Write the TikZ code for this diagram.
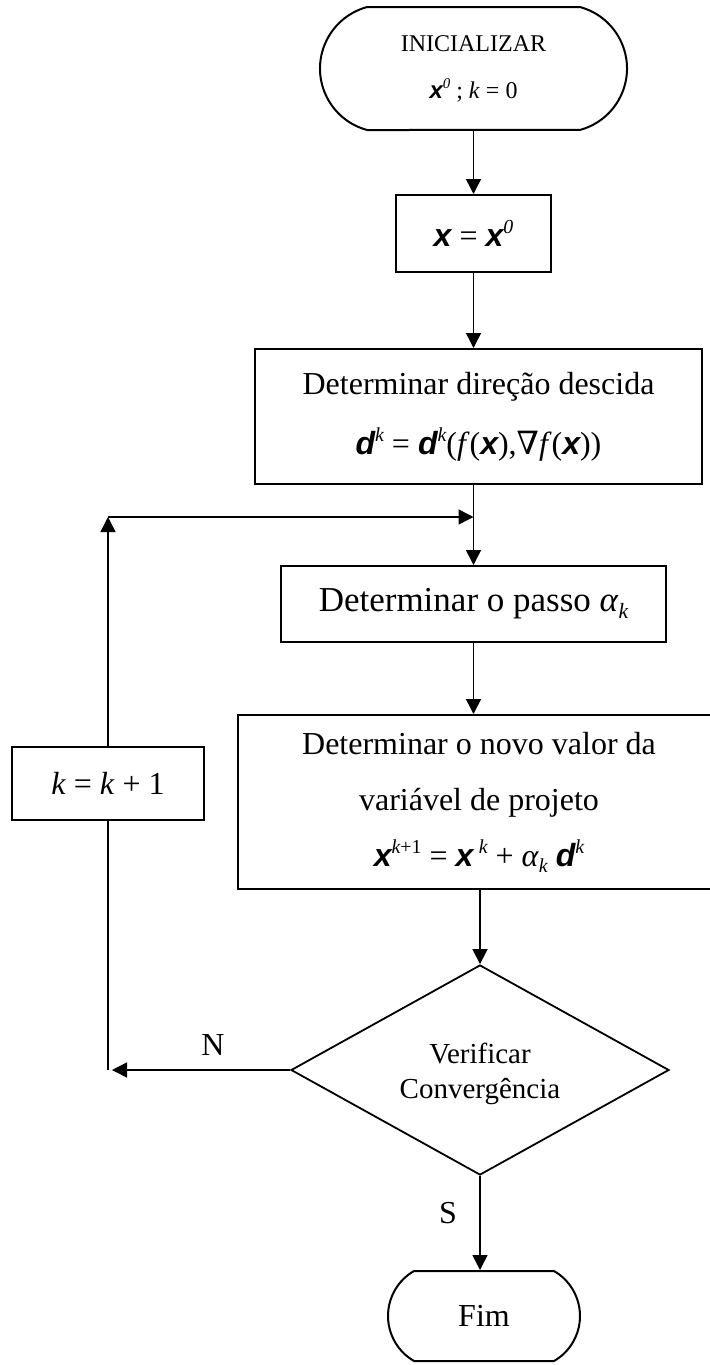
\documentclass[tikz,border=0pt]{standalone}
\usepackage{fontspec}
\usepackage{graphicx}
\setmainfont{Liberation Serif}
\newfontfamily\sansbi{Liberation Sans}
\newfontfamily\symfam{DejaVu Serif}
\usetikzlibrary{shapes.misc,shapes.geometric,arrows.meta}
\newcommand\bv[1]{{\sansbi\bfseries\itshape #1}}
\newcommand\supx[1]{\raisebox{0.85ex}{\scalebox{0.62}{#1}}}
\newcommand\subx[1]{\raisebox{-0.4ex}{\scalebox{0.62}{#1}}}
\tikzset{
  boxnode/.style={draw, line width=1pt, rectangle, align=center, inner sep=0pt, font=\fontsize{16}{30}\selectfont},
  termnode/.style={draw, line width=1pt, rounded rectangle, align=center, inner sep=0pt},
  decnode/.style={draw, line width=0.9pt, diamond, inner sep=0pt},
  lbl/.style={font=\fontsize{16}{18}\selectfont, inner sep=0pt},
  conn/.style={line width=0.75pt},
}
\begin{document}
\begin{tikzpicture}[x=0.5pt,y=-0.5pt, >={Triangle[length=7.5pt,width=7.5pt]}]
\useasboundingbox[fill=white] (0,0) rectangle (709,1365);

\node[termnode, rounded rectangle arc length=150, minimum width=153.5pt, minimum height=61.5pt,
      font=\fontsize{12}{23.5}\selectfont] (start) at (473.5,68.5)
  {INICIALIZAR\\ \bv{x}\supx{\itshape 0} ; \textit{k} = 0};

\node[boxnode, minimum width=77.5pt, minimum height=38.5pt] (xbox) at (473.5,233.5)
  {\bv{x} = \bv{x}\supx{\itshape 0}};

\node[boxnode, minimum width=223.5pt, minimum height=67.5pt] (dir) at (478.5,416.5)
  {Determinar direção descida\\ \bv{d}\supx{\itshape k} = \bv{d}\supx{\itshape k}(\textit{f}(\bv{x}),{\symfam ∇}\textit{f}(\bv{x}))};

\node[boxnode, minimum width=192.5pt, minimum height=38pt, font=\fontsize{17.5}{20}\selectfont] (passo) at (473.5,604)
  {Determinar o passo \textit{α}\subx{\itshape k}};

\node[boxnode, minimum width=241pt, minimum height=87pt, font=\fontsize{16}{28}\selectfont] (novo) at (479,802)
  {Determinar o novo valor da\\variável de projeto\\ \bv{x}\supx{\itshape k\upshape +1} = \bv{x}\,\supx{\itshape k} + \textit{α}\subx{\itshape k} \bv{d}\supx{\itshape k}};

\node[boxnode, minimum width=96pt, minimum height=36.5pt] (kbox) at (108,783.5)
  {\textit{k} = \textit{k} + 1};

\node[decnode, minimum width=189pt, minimum height=105pt] (dia) at (480,1070) {};
\node[align=center, inner sep=0pt, font=\fontsize{14.5}{17.5}\selectfont] (diatext) at (480,1074)
  {Verificar\\Convergência};

\node[termnode, rounded rectangle arc length=120, minimum width=96pt, minimum height=45pt,
      font=\fontsize{16}{18}\selectfont] (fim) at (484,1316) {Fim};

\coordinate (corner) at (108,517);
\coordinate (nend) at (112,1070);

\node[lbl] (nlabel) at (213,1045) {N};
\node[lbl] (slabel) at (448,1213) {S};

\draw[conn,->] (start.south) -- (xbox.north);
\draw[conn,->] (xbox.south) -- (xbox.south |- dir.north);
\draw[conn,->] (passo.north |- dir.south) -- (passo.north);
\draw[conn,->] (passo.south) -- (passo.south |- novo.north);
\draw[conn,->] (dia.north |- novo.south) -- (dia.north);
\draw[conn,->] (dia.south) -- (dia.south |- fim.north);
\draw[conn,->] (dia.west) -- (nend);
\draw[conn] (kbox.south) -- (kbox.south |- dia.west);
\draw[conn,->] (kbox.north) -- (corner);
\draw[conn,->] (corner) -- (passo.north |- corner);
\end{tikzpicture}
\end{document}
